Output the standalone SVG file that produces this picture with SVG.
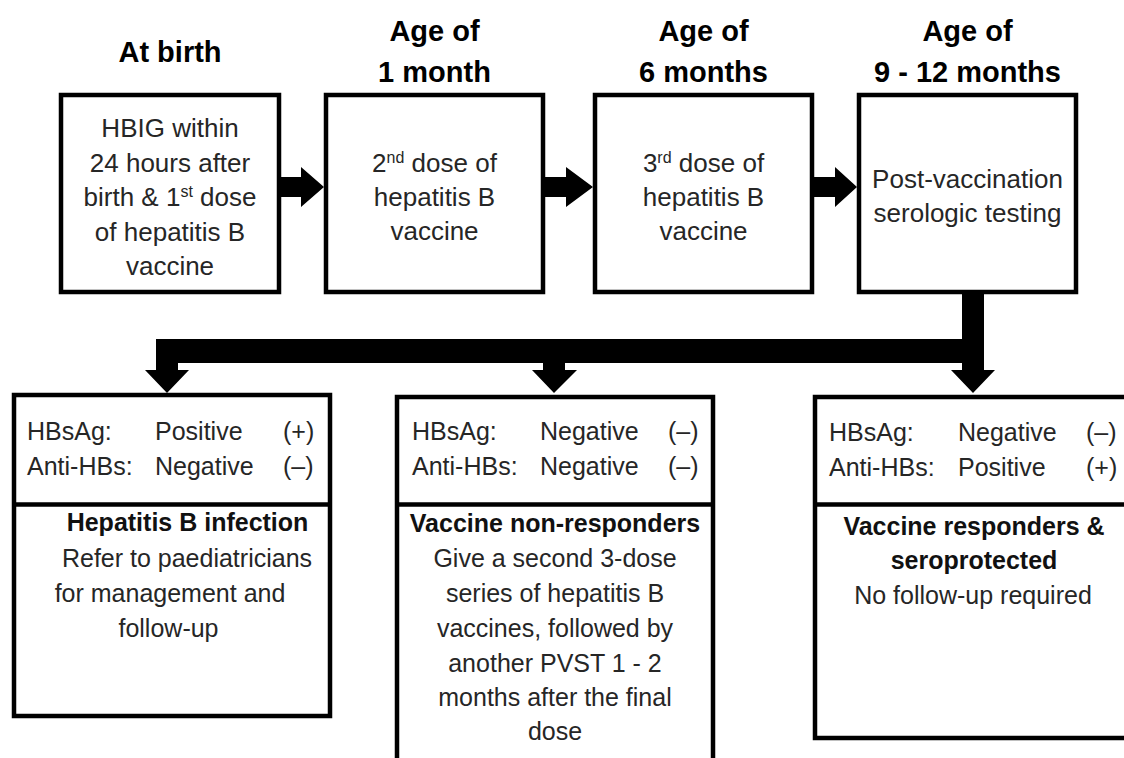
<svg xmlns="http://www.w3.org/2000/svg" width="1124" height="758" viewBox="0 0 1124 758">
<style>
.box{fill:#fff;stroke:#000;stroke-width:4.5}
.div{stroke:#000;stroke-width:4.5}
.hd{font-family:"Liberation Sans",Arial,sans-serif;font-weight:bold;font-size:29px;fill:#000;text-anchor:middle}
.tx{font-family:"Liberation Sans",Arial,sans-serif;font-size:26px;fill:#262626;text-anchor:middle}
.bt{font-family:"Liberation Sans",Arial,sans-serif;font-size:25px;fill:#262626}
.bb{font-family:"Liberation Sans",Arial,sans-serif;font-size:25px;font-weight:bold;fill:#111;text-anchor:middle}
.bc{text-anchor:middle}
.sup{font-size:16px}
.arr{fill:#000}
</style>
<rect width="1124" height="758" fill="#fff"/>
<g id="connectors">
<polygon class="arr" points="281,177 301,177 301,167 324,187 301,207 301,197 281,197"/>
<polygon class="arr" points="545,177 566,177 566,167 593,187 566,207 566,197 545,197"/>
<polygon class="arr" points="814,177 835,177 835,167 857,187 835,207 835,197 814,197"/>
<polygon class="arr" points="962,294 984,294 984,370 995,370 973,393 951,370 962,370 962,363 565,363 565,370 577,370 554,393 532,370 543,370 543,363 178,363 178,370 189,370 167,393 145,370 156,370 156,339 962,339"/>
</g>
<g id="node-birth">
<text class="hd" x="170" y="62">At birth</text>
<rect class="box" x="61" y="95" width="218" height="197"/>
<text class="tx" x="170" y="137">HBIG within</text>
<text class="tx" x="170" y="171.5">24 hours after</text>
<text class="tx" x="170" y="206">birth &amp; 1<tspan class="sup" dy="-9">st</tspan><tspan dy="9"> dose</tspan></text>
<text class="tx" x="170" y="240.5">of hepatitis B</text>
<text class="tx" x="170" y="275">vaccine</text>
</g>
<g id="node-1month">
<text class="hd" x="434.5" y="41">Age of</text>
<text class="hd" x="434.5" y="82">1 month</text>
<rect class="box" x="326" y="95" width="217" height="197"/>
<text class="tx" x="434.5" y="172">2<tspan class="sup" dy="-9">nd</tspan><tspan dy="9"> dose of</tspan></text>
<text class="tx" x="434.5" y="206">hepatitis B</text>
<text class="tx" x="434.5" y="240">vaccine</text>
</g>
<g id="node-6months">
<text class="hd" x="703.5" y="41">Age of</text>
<text class="hd" x="703.5" y="82">6 months</text>
<rect class="box" x="595" y="95" width="217" height="197"/>
<text class="tx" x="703.5" y="172">3<tspan class="sup" dy="-9">rd</tspan><tspan dy="9"> dose of</tspan></text>
<text class="tx" x="703.5" y="206">hepatitis B</text>
<text class="tx" x="703.5" y="240">vaccine</text>
</g>
<g id="node-9-12months">
<text class="hd" x="967.5" y="41">Age of</text>
<text class="hd" x="967.5" y="82">9 - 12 months</text>
<rect class="box" x="859" y="95" width="217" height="197"/>
<text class="tx" x="967.5" y="188">Post-vaccination</text>
<text class="tx" x="967.5" y="222">serologic testing</text>
</g>
<g id="node-infection">
<rect class="box" x="14" y="395" width="316" height="321"/>
<line class="div" x1="14" y1="504.5" x2="330" y2="504.5"/>
<text class="bt" x="27" y="440">HBsAg:</text>
<text class="bt" x="155" y="440">Positive</text>
<text class="bt" x="283" y="440">(+)</text>
<text class="bt" x="27" y="475">Anti-HBs:</text>
<text class="bt" x="155" y="475">Negative</text>
<text class="bt" x="283" y="475">(–)</text>
<text class="bb" x="187.5" y="531">Hepatitis B infection</text>
<text class="bt bc" x="187" y="567">Refer to paediatricians</text>
<text class="bt bc" x="170" y="602">for management and</text>
<text class="bt bc" x="168.5" y="637">follow-up</text>
</g>
<g id="node-nonresponders">
<rect class="box" x="397" y="397" width="316" height="380"/>
<line class="div" x1="397" y1="504.5" x2="713" y2="504.5"/>
<text class="bt" x="412" y="440">HBsAg:</text>
<text class="bt" x="540" y="440">Negative</text>
<text class="bt" x="668" y="440">(–)</text>
<text class="bt" x="412" y="475">Anti-HBs:</text>
<text class="bt" x="540" y="475">Negative</text>
<text class="bt" x="668" y="475">(–)</text>
<text class="bb" x="555" y="532">Vaccine non-responders</text>
<text class="bt bc" x="555" y="567">Give a second 3-dose</text>
<text class="bt bc" x="555" y="602">series of hepatitis B</text>
<text class="bt bc" x="555" y="637">vaccines, followed by</text>
<text class="bt bc" x="555" y="672">another PVST 1 - 2</text>
<text class="bt bc" x="555" y="706">months after the final</text>
<text class="bt bc" x="555" y="740">dose</text>
</g>
<g id="node-responders">
<rect class="box" x="815" y="397" width="330" height="341"/>
<line class="div" x1="815" y1="504.5" x2="1130" y2="504.5"/>
<text class="bt" x="829" y="441">HBsAg:</text>
<text class="bt" x="958" y="441">Negative</text>
<text class="bt" x="1086" y="441">(–)</text>
<text class="bt" x="829" y="476">Anti-HBs:</text>
<text class="bt" x="958" y="476">Positive</text>
<text class="bt" x="1086" y="476">(+)</text>
<text class="bb" x="974" y="535">Vaccine responders &amp;</text>
<text class="bb" x="974" y="569">seroprotected</text>
<text class="bt bc" x="973" y="604">No follow-up required</text>
</g>
</svg>
